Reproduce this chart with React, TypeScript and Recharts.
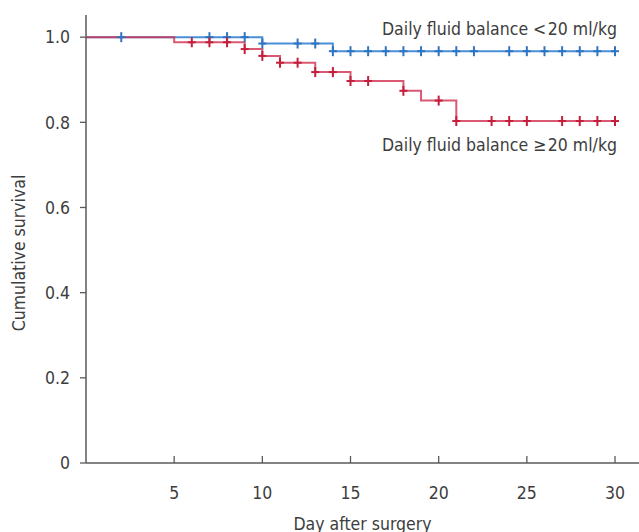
import React from 'react';
import { ComposedChart, Line, Scatter, XAxis, YAxis, ReferenceDot, Label } from 'recharts';

// Kaplan-Meier step data: event times and survival after each step
const lowTimes = [0, 10, 14, 30];
const lowSurv = [1.0, 0.985, 0.967, 0.967];
const lowCensorDays = [2, 7, 8, 9, 10, 12, 13, 14, 15, 16, 17, 18, 19, 20, 21, 22, 24, 25, 26, 27, 28, 29, 30];

const highTimes = [0, 5, 9, 10, 11, 13, 15, 18, 19, 21, 30];
const highSurv = [1.0, 0.988, 0.972, 0.956, 0.94, 0.918, 0.897, 0.874, 0.851, 0.803, 0.803];
const highCensorDays = [6, 7, 8, 9, 10, 11, 12, 13, 14, 15, 16, 18, 20, 21, 23, 24, 25, 27, 28, 29, 30];

const xTicks = [5, 10, 15, 20, 25, 30];
const yTicks = [0, 0.2, 0.4, 0.6, 0.8, 1.0];

const lowLabel = 'Daily fluid balance <\u200a20 ml/kg';
const highLabel = 'Daily fluid balance \u2265\u200a20 ml/kg';
const xLabel = 'Day after surgery';
const yLabel = 'Cumulative survival';

const FONT = "'Liberation Sans Narrow', 'DejaVu Sans Condensed', 'Roboto', sans-serif";
const FS = 17.5;
const TEXT = '#3d3d3d';
const AXIS = '#5a5a5a';
const BLUE_LINE = '#4a90d9';
const BLUE_MARK = '#2f74c0';
const RED_LINE = '#d03050';
const RED_MARK = '#c41e3a';

const toSteps = (times: number[], surv: number[]) => times.map((t, i) => ({ t, s: surv[i] }));
const survAt = (times: number[], surv: number[], d: number) => {
  let v = surv[0];
  for (let i = 0; i < times.length; i++) if (times[i] <= d) v = surv[i];
  return v;
};
const toCensors = (days: number[], times: number[], surv: number[]) =>
  days.map((t) => ({ t, s: survAt(times, surv, t) }));

const lowSteps = toSteps(lowTimes, lowSurv);
const highSteps = toSteps(highTimes, highSurv);
const lowCens = toCensors(lowCensorDays, lowTimes, lowSurv);
const highCens = toCensors(highCensorDays, highTimes, highSurv);

const plus = (color: string) => (props: any) => {
  const { cx, cy } = props;
  return (
    <g>
      <line x1={cx} x2={cx} y1={cy - 5} y2={cy + 5} stroke={color} strokeWidth={2} />
      <line x1={cx - 4} x2={cx + 4} y1={cy} y2={cy} stroke={color} strokeWidth={2} />
    </g>
  );
};

const XTick = (props: any) => {
  const { x, y, payload } = props;
  return (
    <g>
      <line x1={x} x2={x} y1={y} y2={y - 7} stroke={AXIS} strokeWidth={1.3} />
      <text x={x} y={y + 36} textAnchor="middle" fill={TEXT} fontSize={FS} fontFamily={FONT}>
        {payload.value}
      </text>
    </g>
  );
};

export default function App() {
  return (
    <div style={{ position: 'absolute', left: 0, top: 0 }}>
      <ComposedChart width={639} height={532} margin={{ top: 15, right: 0, bottom: 0, left: 0 }}>
        <XAxis
          type="number"
          dataKey="t"
          domain={[0, 31.36]}
          ticks={xTicks}
          allowDataOverflow
          height={69}
          tickSize={0}
          tickMargin={0}
          tickLine={false}
          tick={<XTick />}
          axisLine={{ stroke: AXIS, strokeWidth: 1.5 }}
        >
          <Label
            content={(p: any) => {
              const vb = p.viewBox;
              return (
                <text x={vb.x + vb.width / 2} y={vb.y + vb.height - 2} textAnchor="middle" fill={TEXT} fontSize={FS} fontFamily={FONT}>
                  {xLabel}
                </text>
              );
            }}
          />
        </XAxis>
        <YAxis
          type="number"
          dataKey="s"
          domain={[0, 1.052]}
          ticks={yTicks}
          allowDataOverflow
          width={86}
          tickSize={6}
          tickMargin={10}
          tickFormatter={(v: number) => (v === 0 ? '0' : v.toFixed(1))}
          tick={{ fill: TEXT, fontSize: FS, fontFamily: FONT }}
          tickLine={{ stroke: AXIS, strokeWidth: 1.3 }}
          axisLine={{ stroke: AXIS, strokeWidth: 1.5 }}
        >
          <Label
            content={(p: any) => {
              const vb = p.viewBox;
              const cx = 19;
              const cy = vb.y + vb.height / 2 + 14;
              return (
                <text x={cx} y={cy} transform={`rotate(-90, ${cx}, ${cy})`} textAnchor="middle" dominantBaseline="central" fill={TEXT} fontSize={FS} fontFamily={FONT}>
                  {yLabel}
                </text>
              );
            }}
          />
        </YAxis>
        <Line data={lowSteps} dataKey="s" type="stepAfter" stroke={BLUE_LINE} strokeWidth={2} dot={false} activeDot={false} isAnimationActive={false} />
        <Line data={highSteps} dataKey="s" type="stepAfter" stroke={RED_LINE} strokeOpacity={0.8} strokeWidth={2} dot={false} activeDot={false} isAnimationActive={false} />
        <Scatter data={lowCens} dataKey="s" shape={plus(BLUE_MARK)} isAnimationActive={false} />
        <Scatter data={highCens} dataKey="s" shape={plus(RED_MARK)} isAnimationActive={false} />
        <ReferenceDot
          x={30}
          y={1.0}
          r={1}
          fill="none"
          stroke="none"
          label={(p: any) => {
            const vb = p.viewBox;
            return (
              <text x={vb.x + 3} y={vb.y - 1} textAnchor="end" fill={TEXT} fontSize={FS} fontFamily={FONT}>
                {lowLabel}
              </text>
            );
          }}
        />
        <ReferenceDot
          x={30}
          y={0.803}
          r={1}
          fill="none"
          stroke="none"
          label={(p: any) => {
            const vb = p.viewBox;
            return (
              <text x={vb.x + 3} y={vb.y + 31} textAnchor="end" fill={TEXT} fontSize={FS} fontFamily={FONT}>
                {highLabel}
              </text>
            );
          }}
        />
      </ComposedChart>
    </div>
  );
}
